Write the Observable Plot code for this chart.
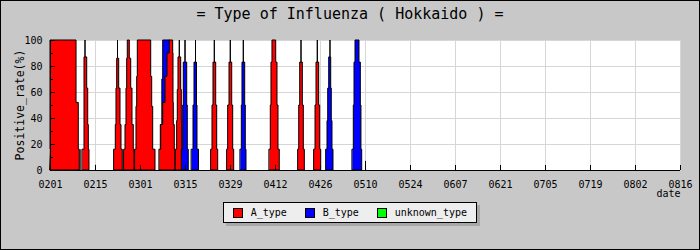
<!DOCTYPE html>
<html><head><meta charset="utf-8">
<script src="https://cdn.jsdelivr.net/npm/d3@7"></script>
<script src="https://cdn.jsdelivr.net/npm/@observablehq/plot@0.6"></script>
<style>
body{margin:0;background:#c8c8c8;}
#wrap{position:relative;width:700px;height:250px;background:#c8c8c8;overflow:hidden;font-family:"DejaVu Sans Mono",monospace;}
#wrap svg{position:absolute;left:0;top:0;}
#border{position:absolute;left:0;top:0;width:700px;height:250px;box-sizing:border-box;border:1px solid #000;pointer-events:none;}
#title{position:absolute;left:0;top:7px;width:700px;text-align:center;font-size:15px;line-height:15px;font-weight:normal;color:#000;}
#ylabel{position:absolute;left:19.5px;top:105px;width:0;height:0;}
#ylabel span{position:absolute;left:0;top:0;transform:translate(-50%,-50%) rotate(-90deg);white-space:nowrap;font-size:11.5px;line-height:12px;color:#000;}
#legend{position:absolute;left:223px;top:202px;width:254px;height:21px;box-sizing:border-box;border:1px solid #000;background:#eeeeee;box-shadow:3px 3px 0 #a8a8a8;font-size:10px;display:flex;align-items:center;padding-left:9.3px;gap:18.5px;}
.item{display:flex;align-items:center;}
.sw{width:10px;height:10px;box-sizing:border-box;border:1px solid #000;margin-right:7.4px;}
</style></head>
<body>
<div id="wrap">
  <div id="title">= Type of Influenza ( Hokkaido ) =</div>
  <div id="ylabel"><span>Positive_rate(%)</span></div>
  <div id="legend"></div>
  <div id="border"></div>
</div>
<script>
// ---- data ----
const types = ["A_type", "B_type", "unknown_type"];
const typeColors = ["#ff0000", "#0000ff", "#00ff00"];
const xTickLabels = ["0201","0215","0301","0315","0329","0412","0426","0510","0524","0607","0621","0705","0719","0802","0816"];
const yTicks = [0, 20, 40, 60, 80, 100];
const yMinorTicks = [10, 30, 50, 70, 90];

// each spike: its type and its stepped tiers [top %, from day, to day] (days since 0201)
const spikeTypes = ["A_type","A_type","A_type","A_type","A_type","B_type","A_type","A_type","B_type","B_type","A_type","A_type","B_type","A_type","A_type","A_type","B_type","B_type"];
const spikeTiers = [
  [[16,0,9.1],[52,0,8.8],[100,0,8.1]],
  [[16,10.05,12.13],[35,10.58,11.92],[63,10.58,11.73],[87,10.58,11.42],[100,10.89,10.89]],
  [[16,19.91,22.49],[35,20.31,22.09],[63,20.53,21.78],[86,20.75,21.37],[100,21.0,21.0]],
  [[16,23.02,26.13],[35,23.33,25.91],[63,23.64,25.51],[86,23.86,25.11],[100,24.04,24.67]],
  [[16,26.44,32.67],[49,26.75,31.95],[72,26.97,31.64],[100,27.16,31.33]],
  [[35,34.44,37.33],[70,34.8,37.33],[100,35.06,37.33]],
  [[16,34.0,38.89],[35,34.44,38.67],[52,35.06,38.36],[72,35.78,38.27],[90,36.4,38.27],[100,37.11,38.17]],
  [[16,39.1,41.16],[38,39.4,40.97],[62,39.6,40.85],[87,39.82,40.66],[100,40.23,40.23]],
  [[16,40.97,43.02],[50,41.28,42.71],[83,41.47,42.53],[100,42.0,42.0]],
  [[16,44.02,46.2],[50,44.49,45.73],[83,44.8,45.58],[100,45.27,45.27]],
  [[16,50.09,52.17],[50,50.4,51.86],[83,50.71,51.55],[100,51.12,51.12]],
  [[16,55.07,57.15],[50,55.28,56.84],[83,55.69,56.53],[100,56.09,56.09]],
  [[16,59.2,60.98],[50,59.52,60.76],[83,59.73,60.57],[100,60.14,60.14]],
  [[16,68.22,71.33],[50,68.54,70.93],[83,68.75,70.62],[100,69.06,70.22]],
  [[16,77.16,79.12],[50,77.38,78.81],[83,77.69,78.5],[100,78.09,78.09]],
  [[16,82.13,84.22],[50,82.45,83.9],[83,82.76,83.59],[100,83.16,83.16]],
  [[16,85.87,88.04],[38,86.18,87.73],[63,86.4,87.51],[87,86.71,87.33],[100,87.11,87.11]],
  [[16,94.05,96.97],[50,94.36,96.74],[83,94.58,96.55],[100,94.89,96.13]]
];
const smallTickDays = [9.24, 14.0, 98.0];
const smallTickTops = [16, 4, 7];

// ---- build ----
const parse = d3.utcParse("%m%d");
const day0 = parse(xTickLabels[0]);
const toDay = s => (parse(s) - day0) / 864e5;
const xTickDays = xTickLabels.map(toDay);
const labelOf = new Map(xTickDays.map((d, i) => [d, xTickLabels[i]]));

const rows = [];
spikeTiers.forEach((tiers, id) => {
  const n = tiers.length;
  for (let i = 0; i < n; i++) rows.push({id, type: spikeTypes[id], x: tiers[i][1], y: tiers[i][0]});
  for (let i = n - 1; i >= 0; i--) rows.push({id, type: spikeTypes[id], x: tiers[i][2], y: i > 0 ? tiers[i - 1][0] : 0});
});
const smallTicks = smallTickDays.map((d, i) => ({x: d, y: smallTickTops[i]}));

const W = 700, H = 250, mT = 40, mR = 20, mB = 80, mL = 50;
const frameW = W - mL - mR, frameH = H - mT - mB;

const chart = Plot.plot({
  width: W, height: H,
  marginTop: mT, marginRight: mR, marginBottom: mB, marginLeft: mL,
  style: {background: "transparent", fontFamily: "'DejaVu Sans Mono', monospace", fontSize: "10px", color: "#000"},
  x: {domain: [xTickDays[0], xTickDays[xTickDays.length - 1]]},
  y: {domain: [0, 100]},
  color: {domain: types, range: typeColors},
  marks: [
    Plot.frame({fill: "white", stroke: "none"}),
    Plot.gridY(yTicks, {stroke: "#d6d6d6", strokeOpacity: 1}),
    Plot.gridX(xTickDays, {stroke: "#d6d6d6", strokeOpacity: 1}),
    Plot.area(rows, {x1: "x", y1: 0, y2: "y", z: "id", fill: "type", stroke: "black", strokeWidth: 1, curve: "step-after"}),
    Plot.ruleX(smallTicks, {x: "x", y1: 0, y2: "y", stroke: "black"}),
    Plot.ruleX([xTickDays[0]], {stroke: "black"}),
    Plot.ruleY([0], {stroke: "black"}),
    Plot.tickX(xTickDays, {x: d => d, insetTop: frameH - 5, stroke: "black"}),
    Plot.tickY(yTicks, {y: d => d, insetRight: frameW - 5, stroke: "black"}),
    Plot.tickY(yMinorTicks, {y: d => d, insetRight: frameW - 3, stroke: "black"}),
    Plot.axisX(xTickDays, {tickSize: 0, tickPadding: 10, tickFormat: d => labelOf.get(d), label: null}),
    Plot.axisY(yTicks, {tickSize: 0, tickPadding: 8, label: null}),
    Plot.text(["date"], {frameAnchor: "bottom-right", textAnchor: "end", dy: 26})
  ]
});
const wrap = document.getElementById("wrap");
wrap.insertBefore(chart, wrap.firstChild);

const legend = document.getElementById("legend");
types.forEach((t, i) => {
  const it = document.createElement("div"); it.className = "item";
  const sw = document.createElement("div"); sw.className = "sw"; sw.style.background = typeColors[i];
  const tx = document.createElement("span"); tx.textContent = t;
  it.appendChild(sw); it.appendChild(tx); legend.appendChild(it);
});
</script>
</body></html>
